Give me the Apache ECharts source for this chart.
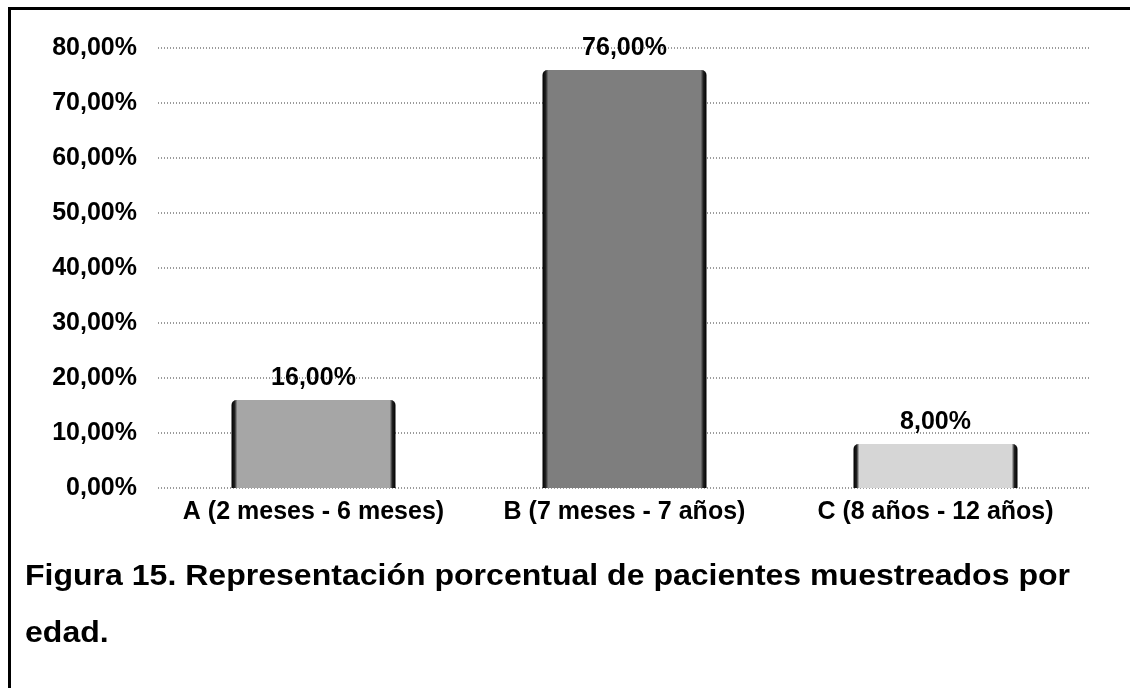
<!DOCTYPE html>
<html>
<head>
<meta charset="utf-8">
<script src="https://cdn.jsdelivr.net/npm/echarts@6/dist/echarts.min.js"></script>
<style>
  html, body { margin: 0; padding: 0; background: #fff; }
  #chart { width: 1130px; height: 688px; }
</style>
</head>
<body>
<div id="chart"></div>
<script>
// Age groups and the share of sampled patients in each
const categories = ['A (2 meses - 6 meses)', 'B (7 meses - 7 años)', 'C (8 años - 12 años)'];
const percentages = [16, 76, 8];
const barTones = ['#a6a6a6', '#7e7e7e', '#d6d6d6'];
const captionLines = ['Figura 15. Representación porcentual de pacientes muestreados por', 'edad.'];

const FONT = '"Liberation Sans", Arial, sans-serif';

function fmtPct(v) {
  return v.toFixed(2).replace('.', ',') + '%';
}

// Bars get dark vertical edges on both sides
function barFill(tone) {
  return {
    type: 'linear', x: 0, y: 0, x2: 1, y2: 0,
    colorStops: [
      { offset: 0, color: '#000' },
      { offset: 0.02, color: '#222' },
      { offset: 0.035, color: tone },
      { offset: 0.965, color: tone },
      { offset: 0.98, color: '#222' },
      { offset: 1, color: '#000' }
    ]
  };
}

// Caption is fitted horizontally to span the frame width
const CAPTION_FONT = 'bold 29px ' + FONT;
const measureCtx = document.createElement('canvas').getContext('2d');
measureCtx.font = CAPTION_FONT;
const captionWidth = measureCtx.measureText(captionLines[0]).width;
const captionScale = 1045 / captionWidth;

const chart = echarts.init(document.getElementById('chart'), null, { renderer: 'canvas' });
chart.setOption({
  animation: false,
  backgroundColor: '#fff',
  grid: { left: 158, right: 39, top: 48, bottom: 200 },
  xAxis: {
    type: 'category',
    data: categories,
    axisLine: { show: false },
    axisTick: { show: false },
    axisLabel: {
      interval: 0,
      hideOverlap: false,
      margin: 12,
      color: '#000',
      fontFamily: FONT,
      fontWeight: 'bold',
      fontSize: 25
    }
  },
  yAxis: {
    type: 'value',
    min: 0,
    max: 80,
    interval: 10,
    axisLine: { show: false },
    axisTick: { show: false },
    axisLabel: {
      margin: 21,
      color: '#000',
      fontFamily: FONT,
      fontWeight: 'bold',
      fontSize: 25,
      formatter: fmtPct
    },
    splitLine: {
      lineStyle: { color: '#7a7a7a', width: 1.5, type: [1, 2] }
    }
  },
  series: [{
    type: 'bar',
    barWidth: 164,
    data: percentages.map((v, i) => ({
      value: v,
      itemStyle: { color: barFill(barTones[i]), borderRadius: [5, 5, 0, 0] }
    })),
    label: {
      show: true,
      position: 'top',
      distance: 9,
      color: '#000',
      fontFamily: FONT,
      fontWeight: 'bold',
      fontSize: 25,
      formatter: p => fmtPct(p.value)
    }
  }],
  graphic: [
    // frame edges along the top and left
    { type: 'rect', shape: { x: 8, y: 7, width: 1122, height: 3 }, style: { fill: '#000' } },
    { type: 'rect', shape: { x: 8, y: 7, width: 3, height: 681 }, style: { fill: '#000' } },
    {
      type: 'text', x: 25, y: 577, scaleX: captionScale,
      style: { text: captionLines[0], font: CAPTION_FONT, fill: '#000', textVerticalAlign: 'middle', verticalAlign: 'middle' }
    },
    {
      type: 'text', x: 25, y: 634, scaleX: captionScale,
      style: { text: captionLines[1], font: CAPTION_FONT, fill: '#000', textVerticalAlign: 'middle', verticalAlign: 'middle' }
    }
  ]
});
</script>
</body>
</html>
